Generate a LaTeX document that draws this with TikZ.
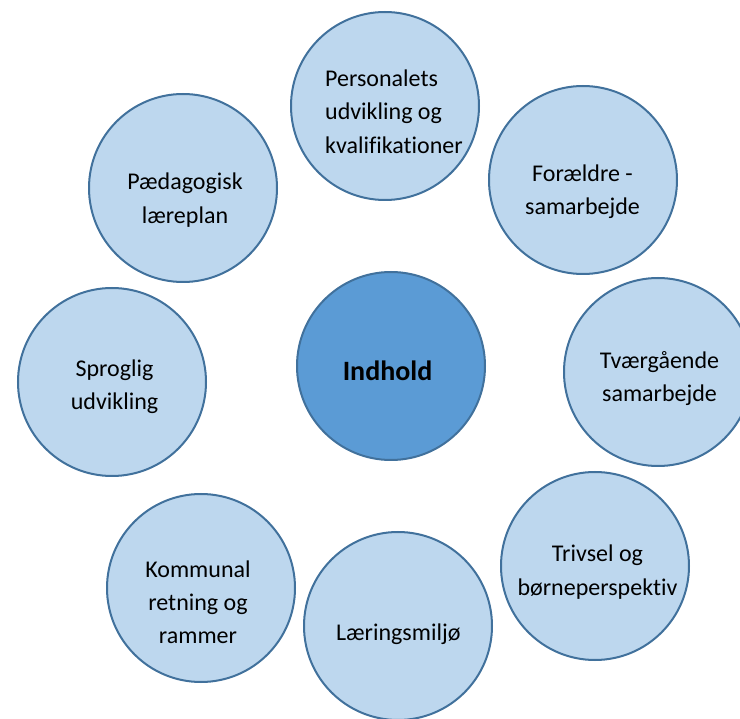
\documentclass[tikz,border=0pt]{standalone}
\usepackage{fontspec}
\setmainfont[Ligatures={NoCommon}]{Carlito}
\definecolor{bord}{HTML}{41719C}
\definecolor{lightfill}{HTML}{BDD7EE}
\definecolor{darkfill}{HTML}{5B9BD5}
\begin{document}
\begin{tikzpicture}[x=1pt,y=-1pt,
  bubble/.style={circle, draw=bord, fill=lightfill, line width=2pt, minimum size=188pt, inner sep=0pt},
  hub/.style={bubble, fill=darkfill},
  lbl/.style={font=\fontsize{24}{33.5}\selectfont, align=center, inner sep=0pt, anchor=base, text=black},
  hublbl/.style={font=\fontsize{28}{33.5}\selectfont\bfseries, inner sep=0pt, anchor=base, text=black}]
\useasboundingbox (0,0) rectangle (740,719);
\clip (0,0) rectangle (740,719);
\node[bubble] (pers) at (385,106) {};
\node[bubble] (foraeldre) at (583,180) {};
\node[bubble] (tvaer) at (658,372) {};
\node[bubble] (trivsel) at (595,566) {};
\node[bubble] (laering) at (398,626) {};
\node[bubble] (kommunal) at (201,588) {};
\node[bubble] (sprog) at (112,382) {};
\node[bubble] (paed) at (183,188) {};
\node[hub] (indhold) at (391,366) {};

\node[lbl, align=left, anchor=base west] (perst) at (325,153.3) {Personalets\\udvikling og\\kvalifikationer};
\node[lbl] (foraeldret) at (582.5,215) {Forældre -\\samarbejde};
\node[lbl] (tvaert) at (659.5,401.7) {Tværgående\\samarbejde};
\node[lbl] (trivselt) at (597.5,595) {Trivsel og\\børneperspektiv};
\node[lbl] (laeringt) at (398.3,640) {Læringsmiljø};
\node[lbl] (kommunalt) at (198,644) {Kommunal\\retning og\\rammer};
\node[lbl] (sprogt) at (114.5,410) {Sproglig\\udvikling};
\node[lbl] (paedt) at (185,223.3) {Pædagogisk\\læreplan};
\node[hublbl] (indholdt) at (387.5,381) {Indhold};
\end{tikzpicture}
\end{document}
